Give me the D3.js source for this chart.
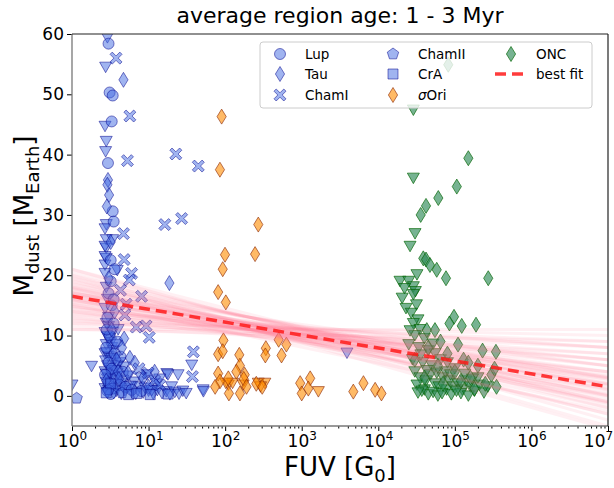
<!DOCTYPE html>
<html>
<head>
<meta charset="utf-8">
<script src="https://cdn.jsdelivr.net/npm/d3@7"></script>
<style>
  body { margin: 0; background: #fff; }
  text { font-family: "DejaVu Sans", sans-serif; }
</style>
</head>
<body>
<div id="chart"></div>
<script>
// [FUV in G0, dust mass in M_Earth]
const lup = [[3.0,58.4],[3.1,50.3],[3.4,49.8],[3.3,45.5],[2.95,38.6],[3.4,30.6],[3.5,28.9],[3.2,22.5],[3.6,21],
  [3.0,17],[3.3,15],[2.9,13],[3.5,12],[3.1,10],[2.8,8],[3.6,7],[3.0,5.5],[3.3,4.5],[2.7,3.5],[3.8,3],
  [3.0,2.2],[4.2,1.8],[3.4,1.2],[2.9,0.8],[5.0,1.5],[6.0,1.0],[8.0,0.8],[3.2,0.3],[3.9,9],[4.3,6.5],
  [3.5,16],[3.2,19],[2.85,11],[4.6,4]];
const tau = [[4.7,52.4],[2.95,35.8],[2.9,35],[3.05,33.3],[2.85,31.4],[3.2,25.5],[3.0,19.5],[18.7,18.7],[4.8,9.5],
  [5.7,6.3],[6.6,5.5],[4.5,8],[3.3,11],[3.8,6],[8.5,3],[10,1.5],[4.0,4],[2.8,2.5],[12,4],[3.6,14],[4.1,2.8],
  [5.4,3.8]];
const chamI = [[3.76,56],[5.7,46.4],[5.3,39],[22.7,40.1],[44.6,38.1],[16.3,28.4],[27,29.4],[4.7,26.9],[4.8,22.6],
  [6.0,20.3],[5.6,19.2],[8.1,16.5],[4.9,13.4],[6.9,11.4],[9.3,11.6],[10.2,9.7],[38.5,7.3],[37.4,3.2],
  [9.9,3.8],[12,2.5],[7.5,4.5],[14,1.8],[4.3,17.5],[5.1,15.2]];
const chamII = [[1.15,-0.4],[3.0,1.0],[4.5,0.5]];
const crA = [[3.2,2.0],[2.8,0.5],[5.5,0.2],[18,0.3],[7,0.4],[10.5,0.2]];
const lowUpper = [[2.9,59.4],[2.75,54.5],[2.7,44.7],[2.8,42.2],[2.75,40.5],[2.8,28.4],[2.7,27.7],[2.8,25.9],
  [3.4,25.9],[2.8,24.5],[2.7,24.8],[2.8,22.8],[2.7,21.7],[3.9,20.8],[2.7,23.1],[2.7,20.3],[2.8,18],[2.9,16],
  [2.7,14.5],[3.0,13],[2.8,12],[2.7,10.5],[3.1,9.5],[2.8,8.5],[3.3,8],[2.7,7],[3.0,6.5],[3.6,6],[2.9,5],
  [4.2,5.5],[3.2,4.2],[2.7,4],[3.9,3.8],[4.8,4.8],[3.0,3],[5.5,3.3],[2.8,2.2],[3.5,2.5],[6.5,2.3],[4.5,2.0],
  [3.1,1.5],[2.7,1.2],[5.2,1.3],[7.5,1.5],[3.8,0.8],[2.9,0.5],[4.4,0.3],[6,0.6],[8.5,0.5],[10,0.8],
  [11.5,0.3],[13,0.9],[15,0.4],[17,0.7],[19,0.2],[22,0.6],[25,0.3],[28,0.8],[31,0.4],[17.3,3.7],[24.3,3.5],
  [17.9,3.5],[36.6,5.1],[51.6,1.0],[52,0.7],[1.8,4.9],[1.0,1.8],[3900,7.1],[9.5,3.5],[12.5,2.0],[20,1.5],
  [8,3.0],[14,2.8],[3.0,11.5],[3.4,10.5],[2.9,9.8],[3.2,8.8],[3.5,7.5],[2.85,7.2],[3.3,6.2],[3.9,5.0],
  [2.75,5.8],[3.1,4.6],[3.6,4.2],[4.1,3.2],[3.3,3.4],[2.9,2.8],[4.6,2.6],[3.7,1.9],[3.2,1.2],[5.8,1.6],
  [4.9,0.9],[3.5,0.4],[6.8,0.3],[9,1.3],[11,0.9],[3.0,0.9],[2.8,3.6],[3.7,8.5],[4.0,11]];
const sigOri = [[90,46.3],[85.5,37.5],[271,28.4],[246,23.5],[99.6,23.4],[93,21],[81,17.2],[102,15.5],[95,9.2],
  [81,6.9],[93,7.4],[153,6.8],[156,5.0],[340,7.9],[335,6.7],[545,6.7],[500,9.3],[630,8.5],[81,3.7],[85.5,2.4],
  [74,1.5],[110,2.9],[112,0.4],[156,0.4],[180,3.5],[175,2.8],[255,2.0],[305,1.5],[955,2.1],[1290,2.9],
  [1000,0.4],[1220,1.2],[4720,0.7],[6400,2.1],[9100,1.0],[11000,0.4],[190,1.5],[140,4]];
const sigOriUpper = [[110,1.8],[125,2.1],[172,1.8],[271,2.1],[330,2.1],[1650,0.7],[102,2.1],[290,1.5]];
const onc = [[82000,54.9],[150000,39.4],[106000,34.7],[60800,32.8],[42000,31.5],[35800,30],[38700,22.8],
  [42000,22.6],[47300,21.7],[58000,20.9],[76600,19.5],[273000,19.5],[97500,13.1],[123000,11.6],[189000,11.8],
  [85000,12],[55000,10.9],[43000,10.9],[344000,7.3],[30000,6],[45000,8],[60000,5],[80000,7],[100000,4],
  [130000,6],[160000,3],[200000,5],[250000,2],[300000,3.5],[350000,1.5],[40000,3],[70000,2],[120000,2.5],
  [180000,1.2],[65000,9],[110000,8.5],[230000,7.5],[330000,4.5],[150000,5.5]];
const oncUpper = [[28700,47.4],[28700,36.1],[30200,26.9],[26000,24.8],[19200,19],[25000,19],[32000,20.1],
  [28700,18.1],[22000,17.8],[30500,17.3],[20500,16.2],[28700,16.8],[31500,15.1],[23000,14.5],[27000,13.7],
  [33000,12.6],[28700,12],[35000,11],[30000,10],[40000,9.5],[25000,8.5],[34000,8],[45000,7.5],[55000,7],
  [28000,6],[38000,5.5],[50000,5],[65000,6],[80000,5.5],[100000,4.5],[30000,4],[35000,3],[42000,2.5],
  [48000,3.5],[55000,2],[62000,1.5],[70000,3],[78000,1],[85000,2.5],[95000,1.5],[110000,2],[125000,1],
  [140000,2.5],[160000,1.5],[180000,0.8],[210000,1.8],[240000,0.5],[40000,1],[45000,0.2],[52000,0.6],
  [60000,0],[68000,0.4],[90000,0.2],[120000,0.4],[150000,0],[32000,1.8],[37000,0.8],[75000,4],[200000,3],
  [270000,1.5],[33000,0.5],[58000,3.8],[88000,3.5],[105000,0.8],[135000,3.6],[170000,2.8],[43000,4.2],
  [36000,6.8],[52000,8.6],[26000,10.8]];

// fit lines: dust mass at FUV = 1 and at FUV = 1e7
const bestFit = [16.5, 1.5];
const fanLines = [[21,-4],[20.5,-2],[20,-5],[19.5,0],[19,-3],[19,1],[18.5,-1],[18.5,2],[18,0],[18,3],
  [17.5,-2],[17.5,1.5],[17,0.5],[17,3],[16.5,-1],[16.5,2.5],[16,1],[16,4],[15.5,2],[15.5,5],[15,0],[15,3],
  [14.5,4],[14.5,6],[14,2],[14,5],[13.5,6],[13.5,8],[13,4],[13,7],[12.5,6],[12.5,9],[12,8],[12,10],
  [11.5,7],[11,9],[11,11],[20,-1],[18,-3],[16,-2.5],[14,8],[17,5],[19.5,-5.5],[21,-1.5],
  [17.8,-0.5],[16.8,1.8],[16.2,0.2],[15.8,3.2],[17.2,-1.2],[15.2,1.2],[16.6,3.5],[14.8,2.8]];

const xTicks = [1e0,1e1,1e2,1e3,1e4,1e5,1e6,1e7];
const yTicks = [0,10,20,30,40,50,60];

const width = 614, height = 488;
const margin = { top: 34, right: 6, bottom: 62, left: 72 };
const iw = width - margin.left - margin.right;
const ih = height - margin.top - margin.bottom;

const svg = d3.select("#chart").append("svg")
  .attr("width", width).attr("height", height);

svg.append("defs").append("clipPath").attr("id", "clip")
  .append("rect").attr("width", iw).attr("height", ih);

const g = svg.append("g").attr("transform", `translate(${margin.left},${margin.top})`);

const x = d3.scaleLog().domain([1, 1e7]).range([0, iw]);
const y = d3.scaleLinear().domain([-5, 60]).range([ih, 0]);

// marker paths centred on 0,0
function shape(type) {
  switch (type) {
    case "circle": return "M5.5,0A5.5,5.5 0 1,1 -5.5,0A5.5,5.5 0 1,1 5.5,0Z";
    case "diamond": return "M0,-7.5L4.6,0L0,7.5L-4.6,0Z";
    case "square": return "M-5,-5H5V5H-5Z";
    case "tri": return "M0,5.5L-6,-5L6,-5Z";
    case "x": {
      const a = 2.2, b = 6;
      return `M${-b + a},${-b}L0,${-a}L${b - a},${-b}L${b},${-b + a}L${a},0L${b},${b - a}L${b - a},${b}L0,${a}L${-b + a},${b}L${-b},${b - a}L${-a},0L${-b},${-b + a}Z`;
    }
    case "pentagon": {
      const pts = d3.range(5).map((i) => {
        const t = -Math.PI / 2 + i * 2 * Math.PI / 5;
        return [6 * Math.cos(t), 6 * Math.sin(t)];
      });
      return "M" + pts.join("L") + "Z";
    }
  }
}

const styles = {
  blue: { fill: "#4169e1", stroke: "#00008b", op: 0.5 },
  orange: { fill: "#ff8c00", stroke: "#8b2500", op: 0.6 },
  green: { fill: "#2e8b57", stroke: "#006400", op: 0.65 },
};

const plot = g.append("g").attr("clip-path", "url(#clip)");

function drawSet(data, type, style) {
  const s = styles[style];
  plot.append("g").selectAll("path")
    .data(data)
    .enter()
    .append("path")
    .attr("d", shape(type))
    .attr("transform", (d) => `translate(${x(d[0])},${y(d[1])})`)
    .attr("fill", s.fill).attr("fill-opacity", s.op)
    .attr("stroke", s.stroke).attr("stroke-opacity", s.op)
    .attr("stroke-width", 1);
}

drawSet(lowUpper, "tri", "blue");
drawSet(lup, "circle", "blue");
drawSet(tau, "diamond", "blue");
drawSet(chamI, "x", "blue");
drawSet(chamII, "pentagon", "blue");
drawSet(crA, "square", "blue");
drawSet(sigOriUpper, "tri", "orange");
drawSet(sigOri, "diamond", "orange");
drawSet(oncUpper, "tri", "green");
drawSet(onc, "diamond", "green");

const line = d3.line().x((d) => x(d[0])).y((d) => y(d[1]));

plot.append("g").selectAll("path")
  .data(fanLines)
  .enter()
  .append("path")
  .attr("d", (d) => line([[1, d[0]], [1e7, d[1]]]))
  .attr("fill", "none")
  .attr("stroke", "#ff7890")
  .attr("stroke-opacity", 0.11)
  .attr("stroke-width", 3);

plot.append("path")
  .attr("d", line([[1, bestFit[0]], [1e7, bestFit[1]]]))
  .attr("fill", "none")
  .attr("stroke", "#ff1a1a")
  .attr("stroke-opacity", 0.85)
  .attr("stroke-width", 3.5)
  .attr("stroke-dasharray", "11,6");

// axes
const minor = [];
for (let e = 0; e < 7; e++) for (let k = 2; k < 10; k++) minor.push(k * Math.pow(10, e));

g.append("g").attr("transform", `translate(0,${ih})`)
  .call(d3.axisBottom(x).tickValues(minor).tickSize(2.5).tickFormat(() => ""))
  .call((a) => a.select(".domain").remove());

const xAxis = g.append("g").attr("transform", `translate(0,${ih})`)
  .call(d3.axisBottom(x).tickValues(xTicks).tickSize(5).tickPadding(4).tickFormat(() => "10"));
xAxis.select(".domain").remove();
xAxis.selectAll(".tick text")
  .attr("font-size", 17).attr("fill", "#000")
  .attr("dx", (d) => (d === 1e7 ? -10 : 0))
  .each(function (d) {
    d3.select(this).append("tspan")
      .attr("dy", "-0.55em").attr("font-size", "12px")
      .text(Math.round(Math.log10(d)));
  });

const yAxis = g.append("g")
  .call(d3.axisLeft(y).tickValues(yTicks).tickSize(5).tickPadding(3));
yAxis.select(".domain").remove();
yAxis.selectAll(".tick text").attr("font-size", 17).attr("fill", "#000");

// frame
g.append("line").attr("x1", 0).attr("x2", 0).attr("y1", 0).attr("y2", ih).attr("stroke", "#777").attr("stroke-width", 1.3);
g.append("line").attr("x1", 0).attr("x2", iw).attr("y1", ih).attr("y2", ih).attr("stroke", "#777").attr("stroke-width", 1.3);
g.append("line").attr("x1", 0).attr("x2", iw).attr("y1", 0).attr("y2", 0).attr("stroke", "#222").attr("stroke-width", 1.2);
g.append("line").attr("x1", iw).attr("x2", iw).attr("y1", 0).attr("y2", ih).attr("stroke", "#222").attr("stroke-width", 1.2);

// legend
const legendItems = [
  { label: "Lup", type: "circle", style: "blue", col: 0, row: 0 },
  { label: "Tau", type: "diamond", style: "blue", col: 0, row: 1 },
  { label: "ChamI", type: "x", style: "blue", col: 0, row: 2 },
  { label: "ChamII", type: "pentagon", style: "blue", col: 1, row: 0 },
  { label: "CrA", type: "square", style: "blue", col: 1, row: 1 },
  { label: "σOri", type: "diamond", style: "orange", col: 1, row: 2 },
  { label: "ONC", type: "diamond", style: "green", col: 2, row: 0 },
  { label: "best fit", type: "line", col: 2, row: 1 },
];
const colX = [280, 393, 511];
const rowY = [54, 74, 95];

svg.append("rect")
  .attr("x", 260).attr("y", 42).attr("width", 332).attr("height", 66)
  .attr("rx", 3).attr("fill", "#fff").attr("fill-opacity", 0.8)
  .attr("stroke", "#ccc").attr("stroke-width", 1);

legendItems.forEach((it) => {
  const cx = colX[it.col], cy = rowY[it.row];
  if (it.type === "line") {
    svg.append("line").attr("x1", cx - 16).attr("x2", cx + 16).attr("y1", cy).attr("y2", cy)
      .attr("stroke", "#ff1a1a").attr("stroke-opacity", 0.85)
      .attr("stroke-width", 3.5).attr("stroke-dasharray", "11,6");
  } else {
    const s = styles[it.style];
    svg.append("path").attr("d", shape(it.type))
      .attr("transform", `translate(${cx},${cy})`)
      .attr("fill", s.fill).attr("fill-opacity", s.op)
      .attr("stroke", s.stroke).attr("stroke-opacity", s.op);
  }
  const t = svg.append("text").attr("x", cx + 25).attr("y", cy + 5).attr("font-size", 13.5);
  if (it.label === "σOri") {
    t.append("tspan").attr("font-style", "italic").text("σ");
    t.append("tspan").text("Ori");
  } else {
    t.text(it.label);
  }
});

// title and axis labels
svg.append("text").attr("x", 340).attr("y", 23).attr("text-anchor", "middle")
  .attr("font-size", 22).text("average region age: 1 - 3 Myr");

const xl = svg.append("text").attr("x", 340).attr("y", 476).attr("text-anchor", "middle").attr("font-size", 26);
xl.append("tspan").text("FUV [G");
xl.append("tspan").attr("font-size", "18px").attr("dy", 6).text("0");
xl.append("tspan").attr("dy", -6).text("]");

const yl = svg.append("text").attr("transform", "translate(33,216) rotate(-90)")
  .attr("text-anchor", "middle").attr("font-size", 26);
yl.append("tspan").text("M");
yl.append("tspan").attr("font-size", "18px").attr("dy", 6).text("dust");
yl.append("tspan").attr("dy", -6).text("  [M");
yl.append("tspan").attr("font-size", "18px").attr("dy", 6).text("Earth");
yl.append("tspan").attr("dy", -6).text("]");
</script>
</body>
</html>
